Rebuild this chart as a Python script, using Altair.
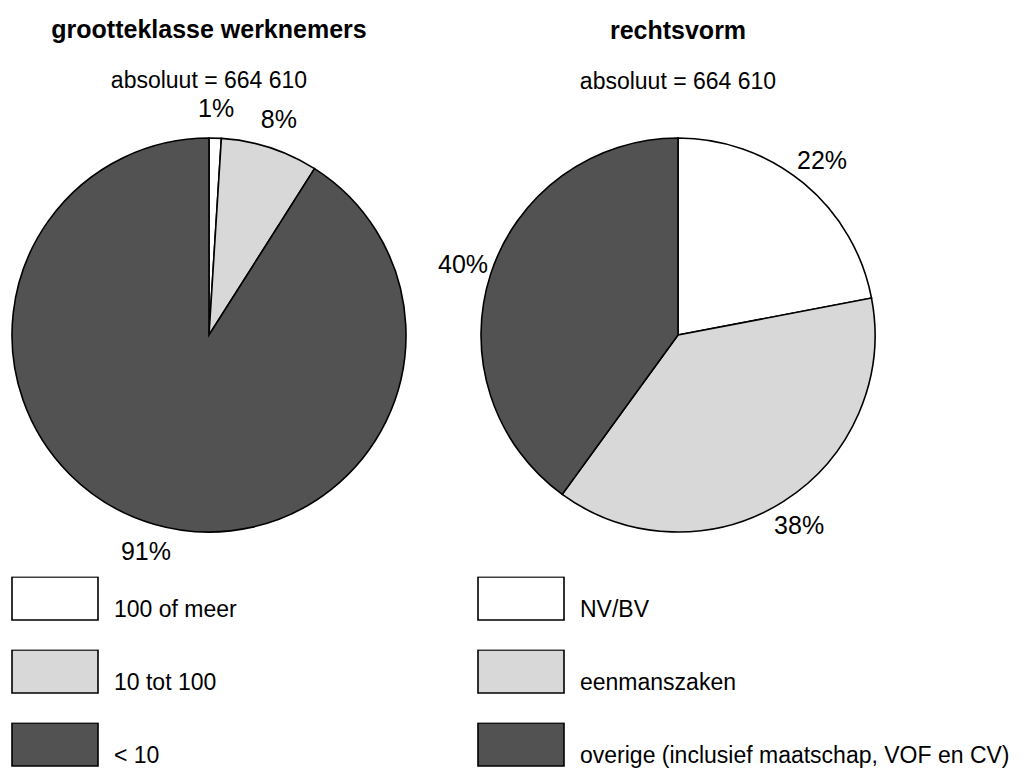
import altair as alt
import pandas as pd

# ---- data ----
left_title = "grootteklasse werknemers"
right_title = "rechtsvorm"
subtitle = "absoluut = 664 610"
left_categories = ["100 of meer", "10 tot 100", "< 10"]
left_values = [1, 8, 91]
right_categories = ["NV/BV", "eenmanszaken", "overige (inclusief maatschap, VOF en CV)"]
right_values = [22, 38, 40]
slice_colors = ["#ffffff", "#d8d8d8", "#525252"]

FONT = "Liberation Sans Narrow, Liberation Sans, Arial, sans-serif"


def pie(title, cats, vals, width, legend_x):
    df = pd.DataFrame({"cat": cats, "val": vals, "idx": list(range(len(cats)))})
    base = alt.Chart(df).encode(
        theta=alt.Theta("val:Q", stack=True),
        order=alt.Order("idx:Q"),
    )
    arc = base.mark_arc(radius=197, stroke="black", strokeWidth=1.6).encode(
        color=alt.Color(
            "cat:N",
            scale=alt.Scale(domain=cats, range=slice_colors),
            legend=alt.Legend(
                title=None,
                orient="none",
                legendX=legend_x,
                legendY=478.5,
                symbolType="M-1,-0.5H1V0.5H-1Z",
                symbolSize=7396,
                symbolStrokeColor="black",
                symbolStrokeWidth=1.6,
                symbolOpacity=1,
                clipHeight=44,
                rowPadding=28,
                labelFontSize=23,
                labelFont=FONT,
                labelColor="black",
                labelOffset=15,
                labelBaseline="top",
                labelLimit=700,
                padding=0,
            ),
        )
    )
    text = (
        base.transform_calculate(lbl="datum.val + '%'")
        .mark_text(radius=226, fontSize=25, font=FONT, color="black")
        .encode(text="lbl:N")
    )
    return alt.layer(arc, text).properties(
        width=width,
        height=474,
        title=alt.Title(
            title,
            subtitle=subtitle,
            font=FONT,
            fontSize=25,
            fontWeight="bold",
            color="black",
            subtitleFont=FONT,
            subtitleFontSize=23,
            subtitleFontWeight="normal",
            subtitleColor="black",
            subtitlePadding=27,
            offset=4,
            anchor="middle",
            frame="group",
        ),
    )


left = pie(left_title, left_categories, left_values, 402, 3)
right = pie(right_title, right_categories, right_values, 480, 39)

chart = (
    alt.hconcat(left, right, spacing=28)
    .resolve_scale(color="independent", theta="independent")
    .resolve_legend(color="independent")
    .configure_view(stroke=None)
    .properties(padding={"top": 10, "left": 0, "right": 0, "bottom": 0}, background="white")
)

chart.save("out.html", embed_options={"renderer": "svg", "actions": False})
